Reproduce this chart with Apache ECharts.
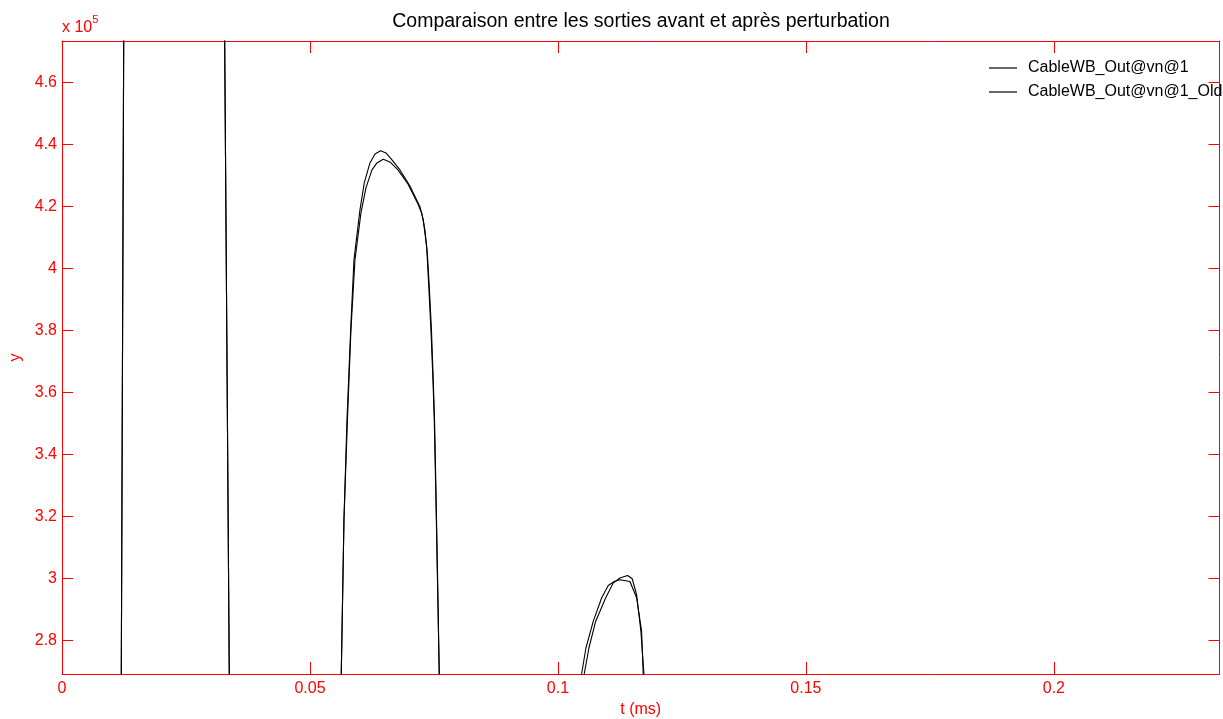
<!DOCTYPE html>
<html>
<head>
<meta charset="utf-8">
<script src="https://cdn.jsdelivr.net/npm/echarts@6/dist/echarts.min.js"></script>
<style>
html,body{margin:0;padding:0;background:#fff;overflow:hidden;}
#chart{width:1223px;height:719px;}
</style>
</head>
<body>
<div id="chart"></div>
<script>
// ---- data (t in ms, y raw values) ----
const seriesNames = ['CableWB_Out@vn@1', 'CableWB_Out@vn@1_Old'];
const xTicks = [0, 0.05, 0.1, 0.15, 0.2];
const yTicks = [280000, 300000, 320000, 340000, 360000, 380000, 400000, 420000, 440000, 460000];

const pulse1 = [
  [0, 120000], [0.0115, 150000], [0.011956, 269160], [0.012440, 473450],
  [0.0135, 760000], [0.0225, 850000], [0.0318, 760000],
  [0.032802, 473450], [0.033730, 269160], [0.0342, 150000],
  [0.045, 60000], [0.0555, 150000]
];
const pulse2New = [
  [0.056310, 269160], [0.056855, 318940], [0.057460, 351190], [0.058206, 380230],
  [0.058871, 402810], [0.060081, 418940], [0.060948, 427650], [0.062097, 434100],
  [0.063105, 437000], [0.064254, 438060], [0.065323, 437320], [0.066532, 435060],
  [0.068145, 431840], [0.070161, 426680], [0.072177, 420000], [0.072843, 415710],
  [0.073528, 407100], [0.073992, 393130], [0.074395, 380230], [0.074798, 364100],
  [0.075060, 351190], [0.075403, 325390], [0.075706, 299580], [0.076069, 269160]
];
const pulse2Old = [
  [0.056310, 269160], [0.056855, 318940], [0.057560, 351190], [0.058266, 380230],
  [0.059073, 402810], [0.060282, 417970], [0.061290, 426030], [0.062500, 431840],
  [0.063508, 434100], [0.064778, 435290], [0.066129, 434420], [0.067742, 431840],
  [0.069758, 427320], [0.071774, 420870], [0.072581, 417650], [0.073185, 412480],
  [0.073690, 404420], [0.074093, 393130], [0.074496, 380230], [0.074859, 364100],
  [0.075121, 351190], [0.075444, 325390], [0.075746, 299580], [0.076069, 269160]
];
const trough2 = [[0.0765, 150000], [0.09, 80000], [0.1035, 150000]];
const pulse3New = [
  [0.105302, 269160], [0.106250, 277550], [0.107601, 286130], [0.109617, 293680],
  [0.111149, 298520], [0.112500, 300130], [0.114052, 300970], [0.114980, 299900],
  [0.115867, 294740], [0.116734, 282900], [0.117339, 269160]
];
const pulse3Old = [
  [0.104778, 269160], [0.105645, 277550], [0.107117, 286130], [0.108810, 293680],
  [0.110141, 297740], [0.111351, 299030], [0.112500, 299580], [0.114516, 299030],
  [0.115867, 293770], [0.116875, 282900], [0.117198, 269160]
];
const tail = [[0.1178, 150000], [0.14, 100000], [0.2334, 150000]];

const outNew = pulse1.concat(pulse2New, trough2, pulse3New, tail);
const outOld = pulse1.concat(pulse2Old, trough2, pulse3Old, tail);

const X_MIN = 0, X_MAX = 0.2334, Y_MIN = 269160, Y_MAX = 473450;
const RED = '#ff0000';
const FONT = 'Liberation Sans, Arial, sans-serif';

const chart = echarts.init(document.getElementById('chart'), null, {renderer: 'canvas'});

function xAx(pos, show) {
  return {
    type: 'value', position: pos, min: X_MIN, max: X_MAX,
    name: show ? 't (ms)' : '', nameLocation: 'middle', nameGap: 26,
    nameTextStyle: {color: RED, fontSize: 16, fontFamily: FONT},
    axisLine: {show: true, onZero: false, lineStyle: {color: RED, width: 1}},
    axisTick: {show: true, inside: true, length: 12, lineStyle: {color: RED}, customValues: xTicks},
    axisLabel: {show: show, color: RED, fontSize: 16, fontFamily: FONT, margin: 7,
      customValues: xTicks, formatter: v => String(v)},
    splitLine: {show: false}
  };
}
function yAx(pos, show) {
  return {
    type: 'value', position: pos, min: Y_MIN, max: Y_MAX,
    name: show ? 'y' : '', nameLocation: 'middle', nameGap: 37, nameRotate: 90,
    nameTextStyle: {color: RED, fontSize: 16, fontFamily: FONT},
    axisLine: {show: true, onZero: false, lineStyle: {color: RED, width: 1}},
    axisTick: {show: true, inside: true, length: 11, lineStyle: {color: RED}, customValues: yTicks},
    axisLabel: {show: show, color: RED, fontSize: 16, fontFamily: FONT, margin: 5,
      customValues: yTicks, formatter: v => String(+(v / 1e5).toFixed(1))},
    splitLine: {show: false}
  };
}

chart.setOption({
  animation: false,
  backgroundColor: '#fff',
  grid: {left: 62, right: 3.5, top: 41, bottom: 45, containLabel: false, outerBoundsMode: 'none'},
  xAxis: [xAx('bottom', true), xAx('top', false)],
  yAxis: [yAx('left', true), yAx('right', false)],
  legend: {
    orient: 'vertical', left: 989, top: 60, padding: 0,
    icon: 'rect', itemWidth: 28, itemHeight: 1.2, itemGap: 8,
    textStyle: {color: '#000', fontSize: 16, fontFamily: FONT, lineHeight: 16, padding: [0, 0, 0, 6]},
    data: seriesNames
  },
  graphic: [{
    type: 'text', x: 641, y: 22,
    style: {
      text: 'Comparaison entre les sorties avant et après perturbation',
      fill: '#000', fontSize: 19.5, fontFamily: FONT,
      align: 'center', verticalAlign: 'middle'
    }
  }, {
    type: 'text', left: 62, top: 14,
    style: {
      text: '{a|x 10}{s|5}',
      rich: {
        a: {fill: RED, fontSize: 16, fontFamily: FONT, verticalAlign: 'bottom', lineHeight: 22},
        s: {fill: RED, fontSize: 11, fontFamily: FONT, verticalAlign: 'top', lineHeight: 22}
      }
    }
  }],
  series: [
    {name: seriesNames[0], type: 'line', data: outNew, showSymbol: false, symbol: 'none',
     clip: true, lineStyle: {color: '#000', width: 1.1}, itemStyle: {color: '#000'}},
    {name: seriesNames[1], type: 'line', data: outOld, showSymbol: false, symbol: 'none',
     clip: true, lineStyle: {color: '#000', width: 1.1}, itemStyle: {color: '#000'}}
  ]
});
</script>
</body>
</html>
